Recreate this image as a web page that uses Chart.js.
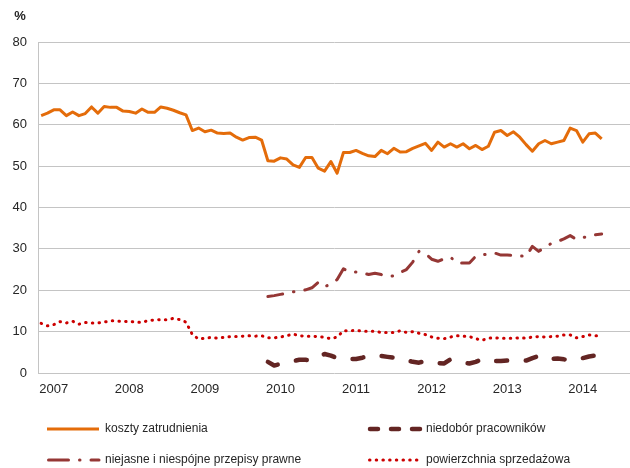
<!DOCTYPE html>
<html lang="pl">
<head>
<meta charset="utf-8">
<script src="https://cdn.jsdelivr.net/npm/chart.js@4.4.1/dist/chart.umd.min.js"></script>
<style>
  html, body { margin: 0; padding: 0; background: #fff; }
</style>
</head>
<body>
<canvas id="chart" width="630" height="468"></canvas>
<script>
// monthly survey axis: XI 2006 .. VIII 2014 (answers end in IV 2014)
const months = [];
for (let y = 2006, m = 11; months.length < 94; m++) {
    if (m > 12) { m = 1; y++; }
    months.push(`${y}-${String(m).padStart(2, '0')}`);
}

const kosztyZatrudnienia = [
    62.2, 62.8, 63.6, 63.6, 62.2, 63.1, 62.2, 62.7, 64.3, 62.8,
    64.4, 64.2, 64.2, 63.3, 63.2, 62.8, 63.8, 63.0, 63.0, 64.3,
    64.0, 63.5, 62.9, 62.4, 58.6, 59.2, 58.3, 58.7, 58.0, 57.9,
    58.0, 57.0, 56.3, 56.9, 57.0, 56.3, 51.3, 51.2, 52.0, 51.7,
    50.3, 49.7, 52.1, 52.1, 49.5, 48.8, 51.1, 48.3, 53.3, 53.3,
    53.8, 53.1, 52.5, 52.3, 53.8, 53.0, 54.3, 53.4, 53.5, 54.3,
    54.9, 55.5, 53.8, 55.8, 54.6, 55.4, 54.6, 55.4, 54.2, 55.0,
    54.0, 54.8, 58.2, 58.6, 57.4, 58.3, 57.0, 55.2, 53.6, 55.4,
    56.2, 55.4, 55.8, 56.2, 59.2, 58.6, 55.8, 57.8, 58.0, 56.6
];

// these two questions were asked only from XI 2009 on
const noAnswer = new Array(36).fill(null);

const niedoborPracownikow = noAnswer.concat([
    2.7, 1.8, 2.2, 2.6, 2.9, 3.2, 3.2, 3.0, 3.9, 4.6,
    4.2, 3.6, 3.4, 3.4, 3.4, 3.7, 4.2, 4.3, 4.1, 3.9,
    3.7, 3.6, 3.1, 2.7, 2.5, 2.9, 2.7, 2.4, 2.3, 3.3,
    2.9, 2.5, 2.3, 2.7, 3.3, 2.8, 2.9, 2.9, 3.0, 3.0,
    3.0, 3.0, 3.6, 4.1, 3.3, 3.4, 3.5, 3.3, 3.2, 3.1,
    3.6, 4.0, 4.2, 5.5
]);

const niejasnePrzepisy = noAnswer.concat([
    18.5, 18.7, 19.0, 19.3, 19.6, 19.8, 20.1, 20.6, 21.9, 20.8,
    21.6, 22.6, 25.2, 24.4, 24.4, 24.2, 23.8, 24.1, 23.8, 23.3,
    23.5, 24.3, 25.0, 26.8, 29.4, 28.9, 27.5, 27.0, 27.6, 28.0,
    26.6, 26.6, 26.6, 28.2, 28.5, 28.8, 29.0, 28.5, 28.5, 28.4,
    28.3, 28.2, 30.6, 29.4, 30.4, 31.3, 31.8, 32.4, 33.2, 32.3,
    32.7, 33.1, 33.4, 33.6
]);

const powierzchniaSprzedazowa = [
    12.0, 11.4, 11.7, 12.4, 12.1, 12.5, 11.8, 12.2, 12.1, 12.1,
    12.3, 12.6, 12.6, 12.4, 12.5, 12.3, 12.2, 12.7, 12.8, 12.9,
    12.9, 13.2, 12.9, 12.3, 9.3, 8.2, 8.4, 8.6, 8.4, 8.6,
    8.8, 8.8, 8.9, 9.0, 8.9, 9.0, 8.5, 8.5, 8.7, 9.0,
    9.4, 9.0, 8.9, 8.9, 8.8, 8.6, 8.3, 8.7, 10.2, 10.2,
    10.3, 10.1, 10.1, 10.1, 9.8, 9.8, 9.8, 10.2, 9.8, 10.0,
    9.6, 9.3, 8.7, 8.4, 8.3, 8.7, 9.0, 8.9, 8.8, 8.3,
    7.9, 8.4, 8.5, 8.4, 8.4, 8.4, 8.5, 8.4, 8.7, 8.8,
    8.7, 8.8, 8.9, 9.2, 9.2, 8.5, 8.8, 9.2, 9.0, 9.0
];

const FONT = "'Liberation Sans', Arial, sans-serif";
const TEXT = '#262626';
const GRID = '#c4c4c4';

// legend drawn by hand: two columns, two rows, own sample patterns
const legendAndUnit = {
    id: 'legendAndUnit',
    afterDraw(chart) {
        const { ctx } = chart;
        ctx.save();
        ctx.fillStyle = TEXT;
        ctx.font = `bold 13px ${FONT}`;
        ctx.textAlign = 'center';
        ctx.textBaseline = 'middle';
        ctx.fillText('%', 20, 16);

        const slots = [
            { x: 47, y: 429 }, { x: 368, y: 429 },
            { x: 47, y: 460 }, { x: 368, y: 460 }
        ];
        ctx.font = `12px ${FONT}`;
        ctx.textAlign = 'left';
        chart.data.datasets.forEach((ds, i) => {
            const s = slots[i];
            ctx.beginPath();
            ctx.strokeStyle = ds.borderColor;
            ctx.lineWidth = ds.borderWidth;
            ctx.lineCap = ds.borderCapStyle || 'butt';
            ctx.setLineDash(ds.legendDash || []);
            ctx.moveTo(s.x + (ds.legendInset || 0), s.y);
            ctx.lineTo(s.x + 52, s.y);
            ctx.stroke();
            ctx.setLineDash([]);
            ctx.fillText(ds.label, s.x + 58, s.y);
        });
        ctx.restore();
    }
};

new Chart(document.getElementById('chart'), {
    type: 'line',
    data: {
        labels: months,
        datasets: [
            {
                label: 'koszty zatrudnienia',
                data: kosztyZatrudnienia,
                borderColor: '#e46c0a',
                borderWidth: 3,
                borderCapStyle: 'butt'
            },
            {
                label: 'niedobór pracowników',
                data: niedoborPracownikow,
                borderColor: '#632523',
                borderWidth: 4.5,
                borderCapStyle: 'round',
                borderDash: [11, 18.6],
                legendDash: [8, 13],
                legendInset: 2
            },
            {
                label: 'niejasne i niespójne przepisy prawne',
                data: niejasnePrzepisy,
                borderColor: '#953735',
                borderWidth: 3,
                borderCapStyle: 'round',
                borderDash: [15, 11, 0.5, 11],
                legendDash: [20, 11, 0.5, 11],
                legendInset: 1.5
            },
            {
                label: 'powierzchnia sprzedażowa',
                data: powierzchniaSprzedazowa,
                borderColor: '#cc0000',
                borderWidth: 3,
                borderCapStyle: 'round',
                borderDash: [0.5, 6.2],
                legendDash: [0.5, 6.2],
                legendInset: 1.5
            }
        ]
    },
    options: {
        responsive: false,
        animation: false,
        layout: { padding: { top: 42, right: 0, bottom: 65, left: 0 } },
        elements: {
            point: { radius: 0, hoverRadius: 0 },
            line: { tension: 0, borderJoinStyle: 'round' }
        },
        plugins: {
            legend: { display: false },
            tooltip: { enabled: false }
        },
        scales: {
            x: {
                type: 'category',
                offset: true,
                grid: { display: false, drawTicks: false },
                border: { display: false },
                ticks: {
                    autoSkip: false,
                    maxRotation: 0,
                    padding: 9,
                    color: TEXT,
                    font: { family: FONT, size: 13 },
                    callback: function (value) {
                        const lbl = this.getLabelForValue(value);
                        return lbl.endsWith('-01') ? lbl.slice(0, 4) : null;
                    }
                },
                afterFit: (scale) => { scale.height = 30; }
            },
            y: {
                min: 0,
                max: 80,
                grid: { color: GRID, lineWidth: 1, drawTicks: false },
                border: { display: true, color: GRID, width: 1 },
                ticks: {
                    stepSize: 10,
                    padding: 11,
                    color: TEXT,
                    font: { family: FONT, size: 13 }
                },
                afterFit: (scale) => { scale.width = 38; }
            }
        }
    },
    plugins: [legendAndUnit]
});
</script>
</body>
</html>
